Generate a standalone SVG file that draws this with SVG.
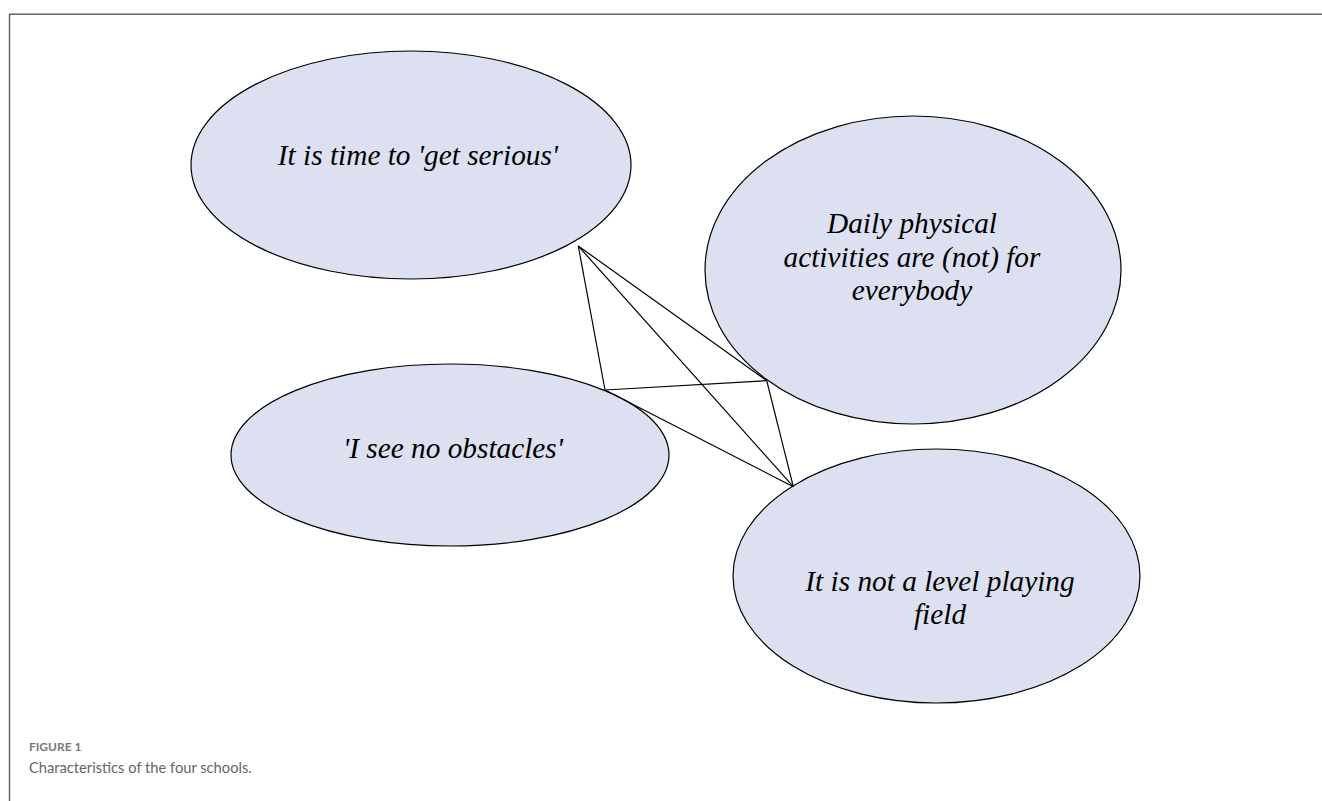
<svg xmlns="http://www.w3.org/2000/svg" width="1322" height="801" viewBox="0 0 1322 801">
<style>
.node ellipse{fill:#dce0f1;stroke:#000;stroke-width:1.2}
.lbl{font-family:"Liberation Serif","Times New Roman",serif;font-style:italic;font-size:29.3px;fill:#000;text-anchor:middle}
.edge line{stroke:#000;stroke-width:1.2}
.frame{stroke:#666;stroke-width:1.5;fill:none}
</style>
<rect width="1322" height="801" fill="#fff"/>
<path class="frame" d="M9.5,801 V14.3 H1322"/>
<g id="node-serious" class="node">
<ellipse cx="411" cy="165" rx="220" ry="114"/>
<text class="lbl" x="418" y="165">It is time to 'get serious'</text>
</g>
<g id="node-daily" class="node">
<ellipse cx="913" cy="270" rx="208" ry="154"/>
<text class="lbl" x="912" y="233">Daily physical</text>
<text class="lbl" x="912" y="266.5">activities are (not) for</text>
<text class="lbl" x="912" y="300">everybody</text>
</g>
<g id="node-obstacles" class="node">
<ellipse cx="450" cy="455" rx="219" ry="91"/>
<text class="lbl" x="453" y="457.5">'I see no obstacles'</text>
</g>
<g id="node-level" class="node">
<ellipse cx="936.5" cy="576" rx="203.5" ry="127"/>
<text class="lbl" x="940" y="590.5">It is not a level playing</text>
<text class="lbl" x="940" y="623.5">field</text>
</g>
<g id="connectors" class="edge">
<line x1="578.3" y1="246" x2="605" y2="390"/>
<line x1="578.3" y1="246" x2="766.7" y2="380.7"/>
<line x1="578.3" y1="246" x2="793.3" y2="486.7"/>
<line x1="605" y1="390" x2="766.7" y2="380.7"/>
<line x1="605" y1="390" x2="793.3" y2="486.7"/>
<line x1="766.7" y1="380.7" x2="793.3" y2="486.7"/>
</g>
<g id="caption">
<text x="29" y="751" font-family="Lato,'Open Sans',sans-serif" font-weight="bold" font-size="12" fill="#777">FIGURE 1</text>
<text x="29" y="773" font-family="Lato,'Open Sans',sans-serif" font-size="14.7" fill="#666">Characteristics of the four schools.</text>
</g>
</svg>
